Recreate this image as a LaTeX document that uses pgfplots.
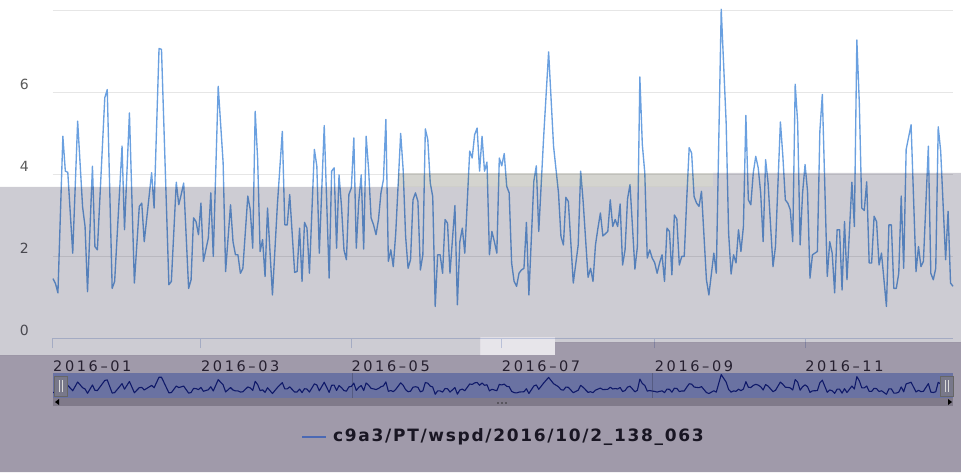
\documentclass[border=0pt]{standalone}
\usepackage{pgfplots}
\usepackage{pgfplotstable}
\pgfplotsset{compat=1.18}
\usepackage{fontspec}
\setmainfont{DejaVu Sans}
\newfontfamily\tickfont[LetterSpace=18]{DejaVu Sans}
\newfontfamily\legfont[LetterSpace=10]{DejaVu Sans}
\definecolor{linec}{RGB}{106,160,224}
\definecolor{gridc}{RGB}{230,230,230}
\definecolor{axisc}{RGB}{204,214,235}
\definecolor{labc}{RGB}{90,90,90}
\definecolor{tlabc}{RGB}{51,51,51}
\definecolor{ovl}{RGB}{5,0,35}
\definecolor{bandc}{RGB}{40,40,15}
\definecolor{darkov}{RGB}{18,3,43}
\definecolor{patchc}{RGB}{25,0,55}
\definecolor{navbg}{RGB}{106,114,162}
\definecolor{navline}{RGB}{15,25,105}
\definecolor{scrollc}{RGB}{128,122,138}
\definecolor{handlec}{RGB}{120,120,138}
\definecolor{legline}{RGB}{75,105,180}
\definecolor{legtext}{RGB}{25,22,35}

\pgfplotstableread{
day v
0 1.45
1 1.33
2 1.10
4 4.92
5 4.07
6 4.04
8 2.07
10 5.29
12 3.20
13 2.72
14 1.13
16 4.19
17 2.23
18 2.15
21 5.86
22 6.06
24 1.21
25 1.38
28 4.68
29 2.64
31 5.49
33 1.34
35 3.21
36 3.29
37 2.35
40 4.03
41 3.17
43 7.06
44 7.04
47 1.30
48 1.38
50 3.80
51 3.25
52 3.50
53 3.78
55 1.21
56 1.42
57 2.93
58 2.84
59 2.52
60 3.29
61 1.87
63 2.44
64 3.54
65 1.99
67 6.14
69 4.27
70 1.62
72 3.25
73 2.35
74 2.03
75 2.03
76 1.58
77 1.70
79 3.46
80 3.13
81 2.19
82 5.53
83 4.35
84 2.11
85 2.40
86 1.50
87 3.17
89 1.05
91 3.25
93 5.04
94 2.76
95 2.76
96 3.50
98 1.60
99 1.62
100 2.68
101 1.38
102 2.82
103 2.68
104 1.58
106 4.60
107 4.19
108 2.07
110 5.18
112 1.46
113 4.07
114 4.15
115 2.19
116 3.98
117 3.21
118 2.15
119 1.91
120 3.50
121 3.66
122 4.88
123 2.19
124 3.33
125 3.98
126 2.17
127 4.92
128 4.11
129 2.93
130 2.76
131 2.52
132 2.89
133 3.54
134 3.86
135 5.33
136 1.87
137 2.15
138 1.74
139 2.56
141 4.99
142 4.11
143 2.48
144 1.70
145 1.91
146 3.37
147 3.54
148 3.33
149 1.66
150 2.03
151 5.10
152 4.84
153 3.78
154 3.45
155 0.77
156 2.03
157 2.03
158 1.58
159 2.89
160 2.80
161 1.58
163 3.23
164 0.81
165 2.35
166 2.68
167 2.07
169 4.56
170 4.39
171 4.96
172 5.12
173 4.07
174 4.92
175 4.07
176 4.29
177 2.03
178 2.60
179 2.35
180 2.07
181 4.39
182 4.20
183 4.50
184 3.70
185 3.54
186 1.83
187 1.38
188 1.26
189 1.58
190 1.66
191 1.70
192 2.82
193 1.05
195 3.82
196 4.20
197 2.60
199 4.92
201 6.98
203 4.68
205 3.54
206 2.48
207 2.27
208 3.43
209 3.33
211 1.34
213 2.27
214 4.07
215 3.33
217 1.48
218 1.70
219 1.38
220 2.27
221 2.68
222 3.05
223 2.49
224 2.54
225 2.60
226 3.37
227 2.72
228 2.89
229 2.72
230 3.27
231 1.78
232 2.15
233 3.39
234 3.74
235 2.72
236 1.68
237 2.23
238 6.37
239 4.72
240 4.03
241 1.95
242 2.15
243 1.95
244 1.84
245 1.58
246 1.83
247 2.03
248 1.38
249 2.68
250 2.60
251 1.54
252 3.00
253 2.90
254 1.78
255 1.99
256 1.99
257 3.37
258 4.64
259 4.51
260 3.45
261 3.29
262 3.21
263 3.58
265 1.42
266 1.05
268 2.07
269 1.58
271 8.02
273 5.25
274 2.56
275 1.56
276 2.03
277 1.83
278 2.64
279 2.11
280 2.72
281 5.43
282 3.37
283 3.25
284 4.03
285 4.43
286 4.15
287 3.54
288 2.35
289 4.35
290 3.78
292 1.74
293 2.23
295 5.27
296 4.43
297 3.37
298 3.29
299 3.13
300 2.35
301 6.19
302 5.25
303 2.27
304 3.54
305 4.23
306 3.58
307 1.46
308 2.03
309 2.07
310 2.11
311 5.04
312 5.94
314 1.50
315 2.35
316 2.07
317 1.10
318 2.64
319 2.64
320 1.17
321 2.84
322 1.42
324 3.80
325 2.72
326 7.27
327 5.74
328 3.17
329 3.11
330 3.81
331 1.83
332 1.83
333 2.97
334 2.84
335 1.78
336 2.07
338 0.77
339 2.76
340 2.76
341 1.21
342 1.21
343 1.58
344 3.46
345 1.70
346 4.60
348 5.20
350 1.62
351 2.23
352 1.74
353 1.87
355 4.68
356 1.58
357 1.42
358 1.70
359 5.15
360 4.56
362 1.91
363 3.09
364 1.34
365 1.26
}\wspd

\begin{document}
\begin{tikzpicture}[x=1pt,y=1pt]
\useasboundingbox (0,0) rectangle (961,472);
\fill[white] (0,0) rectangle (961,472);
% main chart
\begin{axis}[
  at={(53pt,134pt)}, anchor=south west,
  scale only axis, width=900pt, height=328pt,
  xmin=0, xmax=365, ymin=0, ymax=8,
  axis x line*=bottom, axis y line*=left,
  x axis line style={draw=axisc, line width=1pt},
  y axis line style={draw=none},
  ytick={0,2,4,6,8}, yticklabels={0,2,4,6,},
  ymajorgrids, major grid style={draw=gridc, line width=0.8pt},
  ytick style={draw=none},
  xtick={0,60,121,182,244,305},
  xticklabels={2016–01,2016–03,2016–05,2016–07,2016–09,2016–11},
  xtick style={draw=axisc, line width=1pt},
  tick align=outside, major tick length=10pt,
  xticklabel style={anchor=west, inner sep=0pt, yshift=-18pt, font=\tickfont\fontsize{14.5}{16}\selectfont, text=tlabc},
  yticklabel style={anchor=east, inner sep=0pt, xshift=-14pt, yshift=8pt, font=\fontsize{14}{16}\selectfont, text=labc},
  clip=false,
]
\addplot[color=linec, line width=1.35pt, line join=round] table[x=day, y=v] {\wspd};
\end{axis}
% overlays
\fill[ovl, fill opacity=0.2] (0,117) -- (480,117) -- (480,135) -- (555,135) -- (555,130) -- (961,130) -- (961,299) -- (713,299) -- (713,285) -- (0,285) -- cycle;
\fill[bandc, fill opacity=0.2] (398,285) rectangle (713,299);
\fill[patchc, fill opacity=0.1] (480,117) rectangle (555,135);
\fill[darkov, fill opacity=0.4] (0,0) -- (961,0) -- (961,130) -- (555,130) -- (555,117) -- (0,117) -- cycle;
% navigator
\fill[navbg] (53,74) rectangle (953,99);
\draw[navbg!80!black, line width=0.6pt] (352,74) -- (352,99);
\draw[navbg!80!black, line width=0.6pt] (652,74) -- (652,99);
\begin{axis}[
  at={(53pt,74pt)}, anchor=south west,
  scale only axis, width=900pt, height=25pt,
  xmin=0, xmax=365, ymin=-0.6, ymax=8.6,
  hide axis,
]
\addplot[color=navline, line width=1.1pt, line join=round] table[x=day, y=v] {\wspd};
\end{axis}
% handles
\filldraw[fill=handlec, draw=black!60, line width=0.8pt] (54,76) rectangle (67,96);
\draw[white!85!black, line width=0.8pt] (59,80) -- (59,92) (62,80) -- (62,92);
\filldraw[fill=handlec, draw=black!60, line width=0.8pt] (940,76) rectangle (953,96);
\draw[white!85!black, line width=0.8pt] (945,80) -- (945,92) (948,80) -- (948,92);
% scrollbar
\fill[scrollc] (53,66) rectangle (953,74);
\fill[black] (55,70) -- (59,73) -- (59,67) -- cycle;
\fill[black] (952,70) -- (948,73) -- (948,67) -- cycle;
\fill[black!80] (498,69) circle (0.8) (502,69) circle (0.8) (506,69) circle (0.8);
% legend
\draw[legline, line width=1.5pt] (302,35) -- (326,35);
\node[anchor=west, inner sep=0pt, text=legtext, font=\legfont\bfseries\fontsize{17}{19}\selectfont] at (333,35) {c9a3/PT/wspd/2016/10/2\_138\_063};
\end{tikzpicture}
\end{document}
